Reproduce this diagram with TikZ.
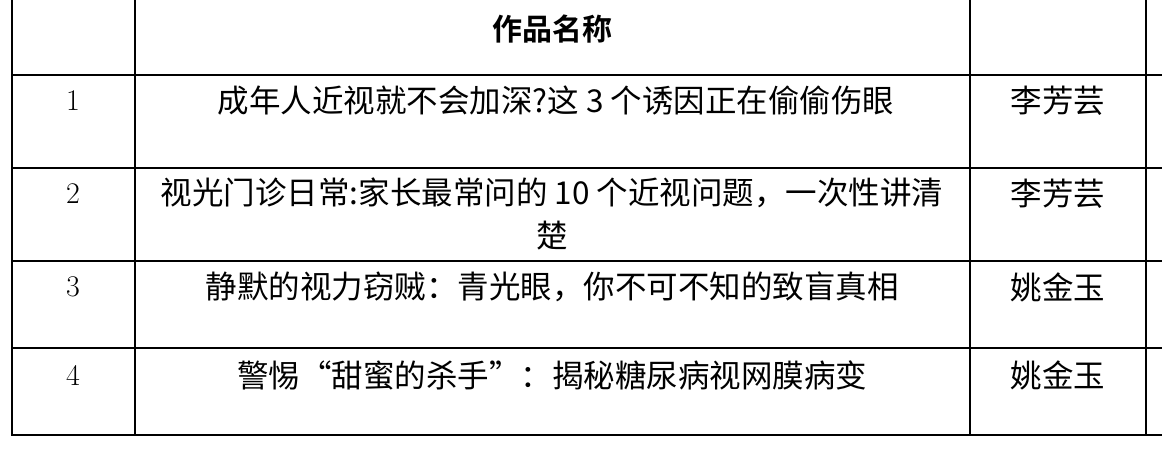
\documentclass[tikz,border=0pt]{standalone}
\usepackage{fontspec}
\newfontfamily\cjk{Noto Sans CJK SC}
\newfontfamily\cjkb{Noto Sans CJK SC Bold}
\begin{document}
\begin{tikzpicture}[x=1pt,y=-1pt,
  grid/.style={line width=2pt,black},
  cell/.style={font=\cjk\fontsize{31.5}{43}\selectfont,anchor=center,align=center,inner sep=0pt},
  num/.style={font=\fontsize{30}{34}\selectfont,anchor=center,inner sep=0pt}]
\useasboundingbox (0,0) rectangle (1162,461);
\draw[grid] (12,0) -- (12,435);
\draw[grid] (135,0) -- (135,435);
\draw[grid] (970,0) -- (970,435);
\draw[grid] (1146,0) -- (1146,435);
\foreach \y in {75,168,261,348,435} \draw[grid] (11,\y) -- (1162,\y);
\node[cell,font=\cjkb\fontsize{30}{34}\selectfont] (h) at (552,29) {作品名称};
\node[num] (n1) at (73,101) {1};
\node[num] (n2) at (73,194) {2};
\node[num] (n3) at (73,287) {3};
\node[num] (n4) at (73,375) {4};
\node[cell] (t1) at (556,101) {成年人近视就不会加深?这 3 个诱因正在偷偷伤眼};
\node[cell] (t2) at (552,214) {视光门诊日常:家长最常问的 10 个近视问题，一次性讲清\\楚};
\node[cell] (t3) at (552,287) {静默的视力窃贼：青光眼，你不可不知的致盲真相};
\node[cell] (t4) at (552,375) {警惕“甜蜜的杀手”：揭秘糖尿病视网膜病变};
\node[cell] (a1) at (1058,101) {李芳芸};
\node[cell] (a2) at (1058,194) {李芳芸};
\node[cell] (a3) at (1058,287) {姚金玉};
\node[cell] (a4) at (1058,375) {姚金玉};
\end{tikzpicture}
\end{document}
